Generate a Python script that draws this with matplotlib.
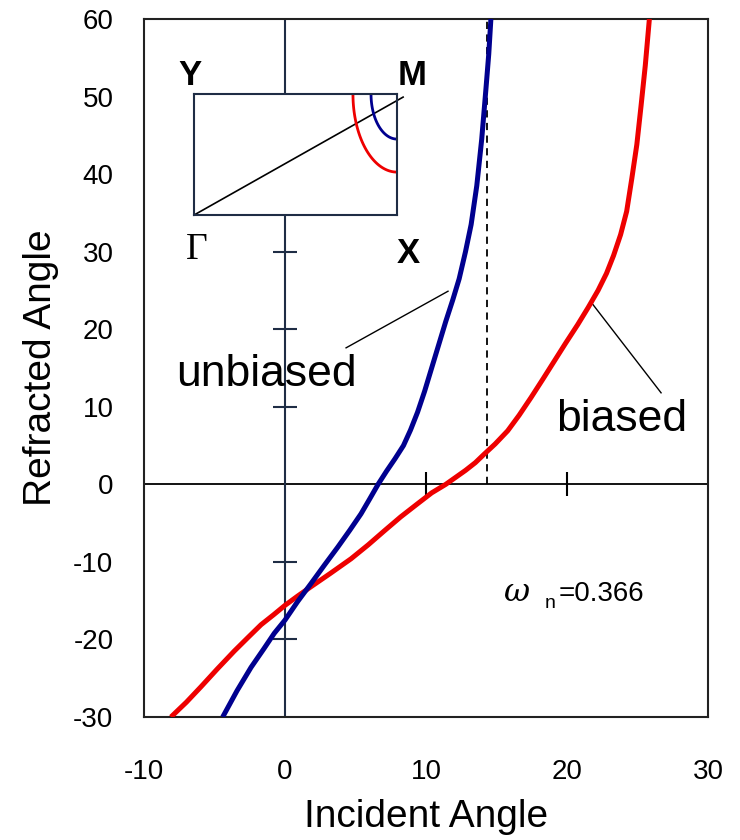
import numpy as np
import matplotlib
matplotlib.use('Agg')
import matplotlib.pyplot as plt

plt.rcParams['font.family'] = ['Liberation Sans', 'DejaVu Sans']
plt.rcParams['axes.unicode_minus'] = False

# refraction curves (incident angle, refracted angle)
unbiased_x = [-4.42, -3.4, -2.41, -1.5, -0.76, 0.0, 0.9, 1.84, 2.8, 3.74, 4.6, 5.39,
              6.0, 6.6, 7.2, 7.8, 8.4, 8.9, 9.4, 9.9, 10.4, 10.9, 11.4, 11.9, 12.35,
              12.8, 13.2, 13.6, 13.95, 14.25, 14.45, 14.6]
unbiased_y = [-30, -26.6, -23.6, -21.2, -19.2, -17.5, -15.1, -12.8, -10.4, -8.1, -5.9, -3.8,
              -1.9, 0.0, 1.7, 3.3, 5.0, 7.0, 9.3, 12.0, 15.0, 18.0, 21.0, 23.8, 26.5,
              30, 33.5, 38.5, 44.5, 51, 55.5, 60]

biased_x = [-8.09, -7.0, -5.96, -4.8, -3.6, -2.6, -1.7, -0.8, 0.0, 0.9, 1.84, 3.2,
            4.68, 5.9, 7.04, 8.2, 9.4, 10.4, 11.4, 12.1, 12.8, 13.5, 14.13, 14.9,
            15.79, 16.6, 17.45, 18.3, 19.1, 19.9, 20.76, 21.5, 22.2, 22.8, 23.3, 23.8,
            24.23, 24.6, 24.95, 25.25, 25.55, 25.84]
biased_y = [-30, -28.1, -26.1, -23.8, -21.5, -19.7, -18.1, -16.8, -15.6, -14.4, -13.2, -11.5,
            -9.6, -7.8, -6.0, -4.2, -2.5, -1.1, 0.0, 0.9, 1.8, 2.8, 3.9, 5.2,
            6.9, 8.9, 11.2, 13.6, 15.9, 18.2, 20.6, 22.8, 25.0, 27.2, 29.5, 32.2,
            35.2, 39.5, 43.8, 48.8, 54, 60]

critical_angle = 14.3
omega_n = 0.366

xticks = [-10, 0, 10, 20, 30]
yticks = [-30, -20, -10, 0, 10, 20, 30, 40, 50, 60]
inner_yticks = [-20, -10, 10, 20, 30, 40, 50]
inner_xticks = [10, 20]

# inset: constant-frequency contours around M (radii in inset units)
contour_red = (0.217, 0.645)
contour_blue = (0.128, 0.372)

BLUE = '#00008f'
RED = '#ee0000'
AXCOL = '#1f2d45'

fig = plt.figure(figsize=(7.4, 8.4), dpi=100)
ax = fig.add_axes([0.1946, 0.1464, 0.7622, 0.831])
ax.set_xlim(-10, 30)
ax.set_ylim(-30, 60)
ax.set_xticks(xticks)
ax.set_yticks(yticks)
ax.tick_params(length=0, labelsize=20, pad=22)
ax.tick_params(axis='x', pad=30)
for s in ax.spines.values():
    s.set_linewidth(1.5)
    s.set_color('#222222')

# cross axes through the origin
ax.axhline(0, color='black', lw=1.3, zorder=2)
ax.axvline(0, color=AXCOL, lw=1.5, zorder=2)
ax.plot(np.zeros(len(inner_yticks)), inner_yticks, ls='none', marker='_', ms=17,
        mew=1.5, color=AXCOL, zorder=2)
ax.plot(inner_xticks, np.zeros(len(inner_xticks)), ls='none', marker='|', ms=17,
        mew=1.5, color='black', zorder=2)

ax.plot([critical_angle, critical_angle], [0, 60], ls=(0, (4, 3)), color='black', lw=1.3)

ax.plot(biased_x, biased_y, color=RED, lw=3.6, solid_capstyle='butt',
        solid_joinstyle='round', zorder=3)
ax.plot(unbiased_x, unbiased_y, color=BLUE, lw=3.6, solid_capstyle='butt',
        solid_joinstyle='round', zorder=3)

# curve labels with leader lines
ax.plot([4.33, 11.56], [17.6, 24.9], color='black', lw=1)
ax.text(-7.73, 12.7, 'unbiased', fontsize=32, ha='left', va='baseline')
ax.plot([21.83, 26.67], [23.2, 11.8], color='black', lw=1)
ax.text(19.2, 6.9, 'biased', fontsize=32, ha='left', va='baseline')

ax.text(15.5, -15.0, 'ω', fontsize=23, style='italic', family='DejaVu Serif', va='baseline')
ax.text(18.4, -15.9, 'n', fontsize=14, va='baseline')
ax.text(19.4, -15.0, '=%.3f' % omega_n, fontsize=20, va='baseline')

ax.set_xlabel('Incident Angle', fontsize=28)
ax.set_ylabel('Refracted Angle', fontsize=28)
ax.xaxis.set_label_coords(0.5, -0.117)
ax.yaxis.set_label_coords(-0.15, 0.5)

# Brillouin-zone inset
ins = fig.add_axes([0.2622, 0.7440, 0.2743, 0.1440])
ins.set_xlim(0, 1)
ins.set_ylim(0, 1)
ins.set_xticks([])
ins.set_yticks([])
for s in ins.spines.values():
    s.set_linewidth(1.5)
    s.set_color(AXCOL)
ins.plot([0, 1.03], [0, 0.975], color='black', lw=1.2, clip_on=False)
t = np.linspace(np.pi, 1.5 * np.pi, 60)
for (rx, ry), c in [(contour_red, RED), (contour_blue, BLUE)]:
    ins.plot(1 + rx * np.cos(t), 1 + ry * np.sin(t), color=c, lw=2)
ins.text(-0.02, 1.157, 'Y', fontsize=25, fontweight='bold', ha='center', va='center')
ins.text(1.074, 1.157, 'M', fontsize=25, fontweight='bold', ha='center', va='center')
ins.text(0.015, -0.29, 'Γ', fontsize=27, family='Liberation Serif', ha='center', va='center')
ins.text(1.054, -0.32, 'X', fontsize=25, fontweight='bold', ha='center', va='center')

fig.savefig('out.png', dpi=100)
